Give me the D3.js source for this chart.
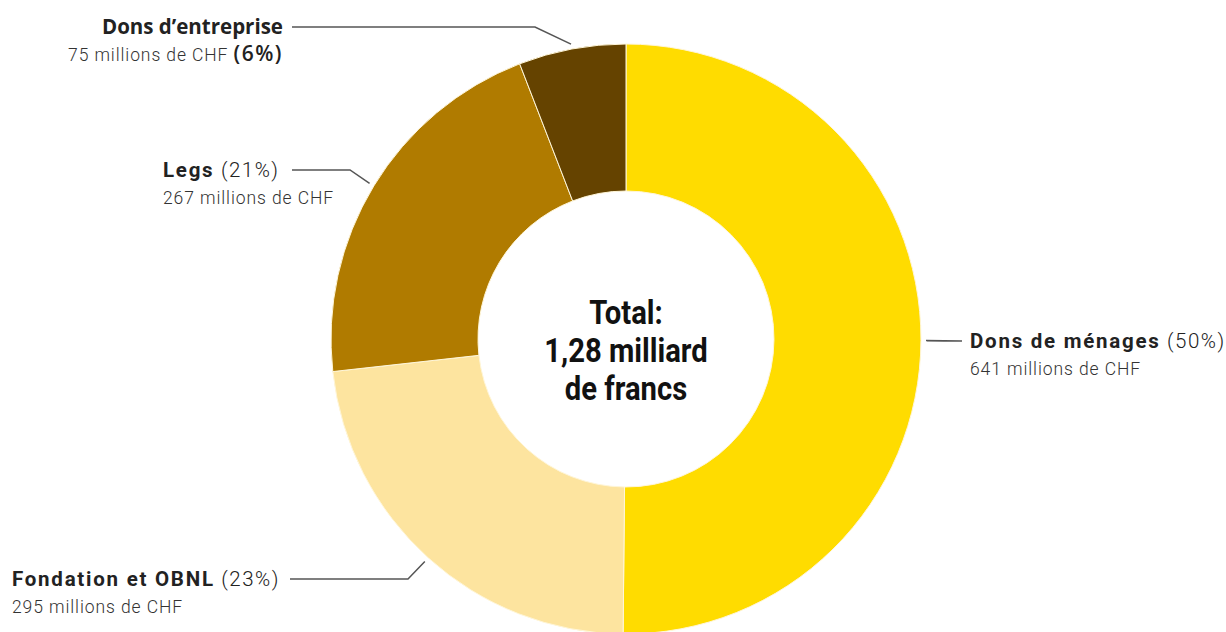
<!DOCTYPE html>
<html><head><meta charset="utf-8">
<script src="https://cdn.jsdelivr.net/npm/d3@7"></script>
<style>
html,body{margin:0;padding:0;background:#fff;}
svg{display:block;}
</style></head>
<body>
<svg id="c" width="1226" height="632"></svg>
<script>
const categories = ["Dons de ménages", "Fondation et OBNL", "Legs", "Dons d’entreprise"];
const values = [641, 295, 267, 75];          // millions de CHF
const percents = ["50%", "23%", "21%", "6%"];
const colors = ["#FFDC00", "#FDE49F", "#B07B00", "#654300"];
const centerLines = ["Total:", "1,28 milliard", "de francs"];

const W = 1226, H = 632;
const cx = 626, cy = 339, rOut = 295, rIn = 148;
const svg = d3.select("#c");
const g = svg.append("g").attr("transform", `translate(${cx},${cy})`);

const pie = d3.pie().sort(null).value(d => d)(values);
const arc = d3.arc().innerRadius(rIn).outerRadius(rOut);

g.selectAll("path").data(pie).join("path")
  .attr("d", arc)
  .attr("fill", (d, i) => colors[i])
  .attr("stroke", "#fff6d8").attr("stroke-width", 1);

// center text
const ct = g.append("text").attr("text-anchor", "middle")
  .attr("font-family", "Roboto, sans-serif").attr("font-weight", 700)
  .attr("font-size", 34).attr("fill", "#111")
  .attr("transform", "scale(0.86,1)");
centerLines.forEach((t, i) => {
  ct.append("tspan").attr("x", 0).attr("y", -15 + i * 38).text(t);
});

// labels & leader lines
const lineR = 300;
function pt(a, r) { return [r * Math.sin(a), -r * Math.cos(a)]; }
const layout = [
  { elbowX: 962 - cx, y: 341 - cy, tx: 970 - cx, anchor: "start", mode: "pct1" },
  { elbowX: 408 - cx, y: 579 - cy, tx: 12 - cx, anchor: "start", mode: "pct1" },
  { elbowX: 350 - cx, y: 170 - cy, tx: 163 - cx, anchor: "start", mode: "pct1" },
  { elbowX: 535 - cx, y: 27 - cy, tx: 283 - cx, anchor: "end", mode: "pct2" }
];
const lineEnd = [927 - cx, 290 - cx, 292 - cx, 292 - cx];

pie.forEach((d, i) => {
  const L = layout[i];
  const mid = (d.startAngle + d.endAngle) / 2;
  const p0 = pt(mid, lineR);
  const pts = [p0, [L.elbowX, L.y], [lineEnd[i], L.y]];
  g.append("path")
    .attr("d", d3.line()(pts))
    .attr("fill", "none").attr("stroke", "#555").attr("stroke-width", 1.5);

  const t1 = g.append("text").attr("x", L.tx).attr("y", L.y + 7)
    .attr("text-anchor", L.anchor).attr("font-family", "Roboto, sans-serif")
    .attr("font-size", 20.5).attr("fill", "#222");
  const t2 = g.append("text").attr("x", L.tx).attr("y", L.y + 34)
    .attr("text-anchor", L.anchor).attr("font-family", "Roboto, sans-serif")
    .attr("font-size", 17.5).attr("font-weight", 300).attr("fill", "#333")
    .attr("letter-spacing", 0.9);
  if (L.mode === "pct1") {
    t1.append("tspan").attr("font-weight", 700).attr("letter-spacing", 1.75).text(categories[i]);
    t1.append("tspan").attr("font-weight", 300).attr("letter-spacing", 1.5).text(" (" + percents[i] + ")");
    t2.text(values[i] + " millions de CHF");
  } else {
    t1.attr("font-family", "'Open Sans', sans-serif").attr("font-weight", 700).attr("font-size", 20.5).text(categories[i]);
    t2.append("tspan").text(values[i] + " millions de CHF ");
    t2.append("tspan").attr("font-family", "'Open Sans', sans-serif").attr("font-weight", 600)
      .attr("font-size", 21).attr("letter-spacing", 1.5).attr("fill", "#222").text("(" + percents[i] + ")");
  }
});
</script>
</body></html>
